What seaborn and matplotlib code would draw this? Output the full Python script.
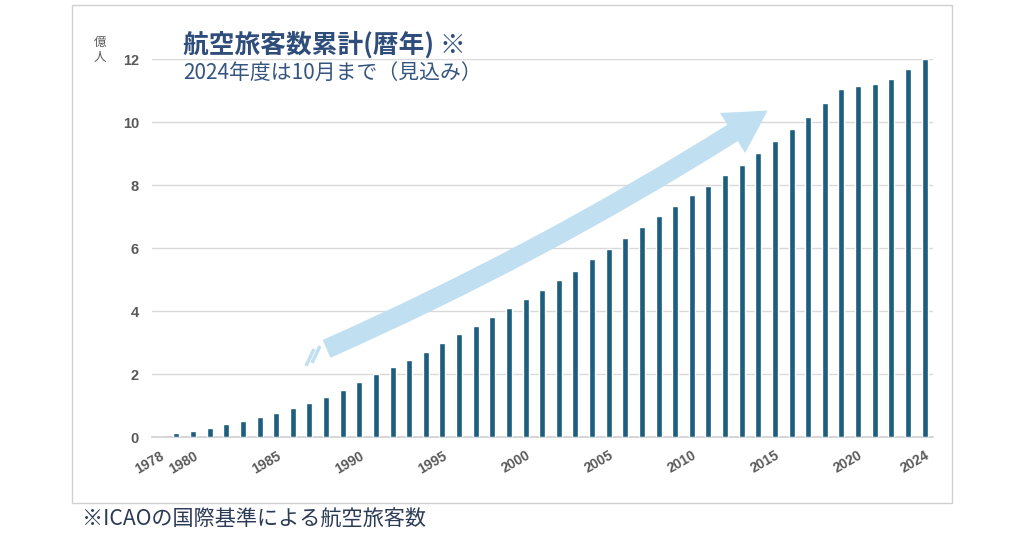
import numpy as np
import pandas as pd
import matplotlib.pyplot as plt
import seaborn as sns
from matplotlib.patches import FancyArrowPatch, Rectangle
from matplotlib.lines import Line2D

years = list(range(1978, 2025))
# 累計旅客数（億人）
passengers = [0.02, 0.13, 0.20, 0.30, 0.43, 0.52, 0.66, 0.78, 0.93, 1.10,
              1.29, 1.50, 1.75, 2.00, 2.23, 2.45, 2.72, 2.99, 3.28, 3.54,
              3.81, 4.10, 4.39, 4.69, 4.99, 5.29, 5.65, 5.99, 6.33, 6.69,
              7.03, 7.34, 7.68, 7.98, 8.31, 8.65, 9.01, 9.40, 9.78, 10.18,
              10.61, 11.06, 11.15, 11.21, 11.38, 11.68, 12.00]
label_years = [1978, 1980, 1985, 1990, 1995, 2000, 2005, 2010, 2015, 2020, 2024]

df = pd.DataFrame({"year": years, "value": passengers})

sns.set_theme(style="white")
plt.rcParams['font.family'] = ['Noto Sans CJK JP', 'DejaVu Sans']

fig = plt.figure(figsize=(10.24, 5.38), dpi=100)
ax = fig.add_axes([0.148, 0.187, 0.763, 0.703])

sns.barplot(data=df, x="year", y="value", color="#1d5e7e", width=0.36,
            saturation=1, ax=ax, zorder=3)

ax.set_xlim(-0.5, len(years) - 0.5)
ax.set_ylim(0, 12)
ax.set_yticks(range(0, 13, 2))
ax.yaxis.grid(True, color="#d9d9d9", linewidth=1, zorder=0)
ax.set_xlabel("")
ax.set_ylabel("")
for s in ["top", "right", "left"]:
    ax.spines[s].set_visible(False)
ax.spines["bottom"].set_color("#d0d0d0")
ax.tick_params(axis="both", length=0)

ax.set_xticks([years.index(y) for y in label_years])
ax.set_xticklabels([str(y) for y in label_years], rotation=30, ha="right",
                   rotation_mode="anchor", fontsize=10, fontweight="bold",
                   color="#595959", family=["Liberation Sans", "DejaVu Sans"])
ax.tick_params(axis="x", pad=8)
for lab in ax.get_yticklabels():
    lab.set_fontsize(10.5)
    lab.set_fontweight("bold")
    lab.set_color("#595959")
    lab.set_family(["Liberation Sans", "DejaVu Sans"])
ax.tick_params(axis="y", pad=9)

# 外枠
fig.patches.append(Rectangle((72 / 1024, 1 - 503 / 538), 880 / 1024, 498 / 538,
                             transform=fig.transFigure, fill=False,
                             edgecolor="#d0d0d0", linewidth=1))

# タイトル
fig.text(183 / 1024, 1 - 45 / 538, "航空旅客数累計(暦年) ※", fontsize=18.5,
         fontweight="bold", color="#2e4d7b", va="center")
fig.text(183 / 1024, 1 - 73 / 538, "2024年度は10月まで（見込み）", fontsize=15,
         color="#34557f", va="center")
fig.text(100 / 1024, 1 - 42 / 538, "億", fontsize=9, color="#595959",
         ha="center", va="center")
fig.text(100 / 1024, 1 - 57 / 538, "人", fontsize=9, color="#595959",
         ha="center", va="center")
fig.text(82 / 1024, 1 - 519 / 538, "※ICAOの国際基準による航空旅客数", fontsize=15.2,
         color="#2b3a55", va="center")

# 矢印
arrow = FancyArrowPatch((324 / 1024, 1 - 350 / 538), (770 / 1024, 1 - 109 / 538),
                        transform=fig.transFigure,
                        connectionstyle="arc3,rad=0.04",
                        arrowstyle="simple,head_width=34,head_length=30,tail_width=14",
                        mutation_scale=1, color="#c0e0f2", linewidth=0, zorder=5)
fig.patches.append(arrow)
for dx in (0, 6):
    x0, y0 = 310 + dx, 358 - dx * 0.5
    fig.lines.append(Line2D([(x0 - 4) / 1024, (x0 + 4) / 1024],
                            [1 - (y0 + 8) / 538, 1 - (y0 - 9) / 538],
                            transform=fig.transFigure, color="#c0e0f2",
                            linewidth=2.5, solid_capstyle="butt"))

fig.savefig("out.png", dpi=100)
